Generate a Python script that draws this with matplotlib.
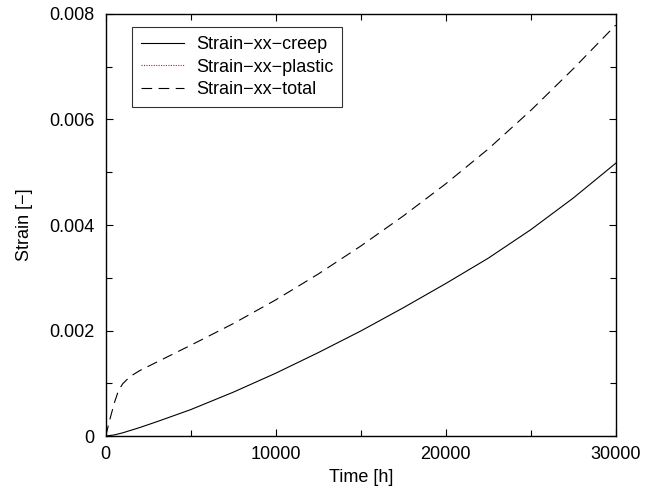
import matplotlib
matplotlib.use("Agg")
import matplotlib.pyplot as plt
from matplotlib.ticker import MultipleLocator, FixedLocator

plt.rcParams['font.family'] = ['Liberation Sans', 'DejaVu Sans']

# Data
time_creep = [0, 500, 1000, 2000, 3000, 5000, 7500, 10000, 12500, 15000, 17500,
              20000, 22500, 25000, 27500, 30000]
strain_creep = [0, 0.00002, 0.00006, 0.00016, 0.00027, 0.00050, 0.00083, 0.00119,
                0.00158, 0.00199, 0.00243, 0.00289, 0.00337, 0.00391, 0.00451, 0.00517]

time_total = [0, 250, 500, 750, 1000, 1250, 1500, 2000, 3000, 5000, 7500, 10000,
              12500, 15000, 17500, 20000, 22500, 25000, 27500, 30000]
strain_total = [0, 0.00032, 0.00062, 0.00086, 0.00099, 0.00107, 0.00114, 0.00124,
                0.00140, 0.00172, 0.00213, 0.00258, 0.00307, 0.00360, 0.00417,
                0.00478, 0.00544, 0.00617, 0.00696, 0.00779]

time_plastic = [0, 30000]
strain_plastic = [0, 0]

labels = ["Strain\u2212xx\u2212creep", "Strain\u2212xx\u2212plastic", "Strain\u2212xx\u2212total"]
x_ticks = [0, 10000, 20000, 30000]
x_ticklabels = ["0", "10000", "20000", "30000"]
y_ticks = [0, 0.002, 0.004, 0.006, 0.008]
y_ticklabels = ["0", "0.002", "0.004", "0.006", "0.008"]

fig = plt.figure(figsize=(6.54, 4.90), dpi=100)
ax = fig.add_axes([105.7/654, 1 - 436/490, 510/654, 422/490])

fs = 13
ax.plot(time_creep, strain_creep, color='black', lw=0.8, label=labels[0])
ax.plot(time_plastic, strain_plastic, color='red', lw=0.8, linestyle=(0, (1, 1.2)), label=labels[1])
ax.plot(time_total, strain_total, color='black', lw=0.8, linestyle=(0, (9.6, 5.8)), label=labels[2])

ax.set_xlim(0, 30000)
ax.set_ylim(0, 0.008)
ax.xaxis.set_major_locator(FixedLocator(x_ticks))
ax.set_xticklabels(x_ticklabels)
ax.yaxis.set_major_locator(FixedLocator(y_ticks))
ax.set_yticklabels(y_ticklabels)
ax.xaxis.set_minor_locator(MultipleLocator(5000))
ax.yaxis.set_minor_locator(MultipleLocator(0.001))
ax.tick_params(which='both', direction='in', top=True, right=True, labelsize=fs, width=0.8)
ax.tick_params(which='major', length=5)
ax.tick_params(which='minor', length=4)
ax.tick_params(axis='x', which='major', pad=7.5)
ax.tick_params(axis='y', which='major', pad=8)
for s in ax.spines.values():
    s.set_linewidth(1.0)

ax.set_xlabel("Time [h]", fontsize=fs, labelpad=4)
ax.set_ylabel("Strain [\u2212]", fontsize=fs, labelpad=12)

leg = ax.legend(loc='upper left', bbox_to_anchor=(0.051, 0.969), borderaxespad=0,
                fontsize=fs, frameon=True, fancybox=False, edgecolor='black',
                handlelength=2.4, handletextpad=0.65, borderpad=0.5, labelspacing=0.3)
leg.get_frame().set_linewidth(0.8)

fig.savefig("out.png", dpi=100)
